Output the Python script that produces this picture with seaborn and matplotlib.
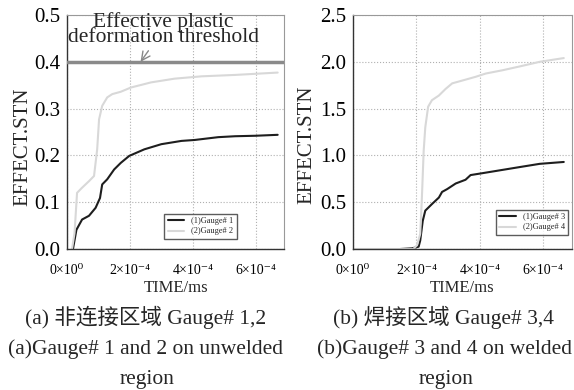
import numpy as np
import pandas as pd
import matplotlib
matplotlib.use("Agg")
import matplotlib.pyplot as plt
import seaborn as sns

# values (time in units of 1e-4, converted below)
g1_t = [0.19, 0.30, 0.48, 0.70, 0.91, 1.05, 1.12, 1.28, 1.50, 1.71, 1.98, 2.46, 3.00, 3.64, 4.06, 4.81, 5.35, 5.99, 6.70]
g1_v = [0.0, 0.041, 0.063, 0.071, 0.088, 0.109, 0.138, 0.149, 0.170, 0.184, 0.199, 0.213, 0.224, 0.231, 0.233, 0.239, 0.241, 0.242, 0.244]
g2_t = [0.16, 0.24, 0.32, 0.48, 0.70, 0.86, 0.96, 1.02, 1.12, 1.28, 1.44, 1.71, 2.03, 2.67, 3.42, 4.28, 5.35, 6.70]
g2_v = [0.0, 0.034, 0.120, 0.131, 0.145, 0.156, 0.213, 0.277, 0.306, 0.324, 0.331, 0.336, 0.345, 0.356, 0.364, 0.369, 0.372, 0.377]

g3_t = [1.49, 1.86, 2.07, 2.12, 2.20, 2.28, 2.49, 2.71, 2.81, 2.97, 3.24, 3.55, 3.71, 4.08, 4.62, 5.25, 5.89, 6.65]
g3_v = [0.0, 0.007, 0.025, 0.09, 0.30, 0.41, 0.48, 0.55, 0.61, 0.64, 0.70, 0.74, 0.79, 0.81, 0.84, 0.875, 0.91, 0.93]
g4_t = [0.0, 1.90, 2.02, 2.12, 2.17, 2.23, 2.28, 2.37, 2.49, 2.71, 2.92, 3.13, 3.45, 3.87, 4.19, 4.72, 5.25, 5.89, 6.65]
g4_v = [0.0, 0.0, 0.04, 0.16, 0.52, 1.05, 1.30, 1.52, 1.59, 1.64, 1.71, 1.77, 1.80, 1.84, 1.875, 1.91, 1.95, 2.00, 2.04]

xticks = [0, 2e-4, 4e-4, 6e-4]
xtick_labels = ["0×10⁰", "2×10⁻⁴", "4×10⁻⁴", "6×10⁻⁴"]
threshold = 0.4

sns.set_style("white")
plt.rcParams["font.family"] = ["Liberation Serif", "DejaVu Serif", "Noto Sans CJK SC"]

def frame(ta, va, la, tb, vb, lb):
    a = pd.DataFrame({"t": np.array(ta) * 1e-4, "v": va, "gauge": la})
    b = pd.DataFrame({"t": np.array(tb) * 1e-4, "v": vb, "gauge": lb})
    return pd.concat([a, b], ignore_index=True)

left = frame(g1_t, g1_v, "(1)Gauge# 1", g2_t, g2_v, "(2)Gauge# 2")
right = frame(g3_t, g3_v, "(1)Gauge# 3", g4_t, g4_v, "(2)Gauge# 4")

fig = plt.figure(figsize=(5.74, 3.9), dpi=100)
ax1 = fig.add_axes([0.1167, 0.3615, 0.378, 0.6])
ax2 = fig.add_axes([0.615, 0.3615, 0.381, 0.6])


def style(ax, ymax, ystep):
    ax.set_xlim(0, 6.9e-4)
    ax.set_ylim(0, ymax)
    ax.set_xticks(xticks)
    ax.set_xticklabels(xtick_labels, fontsize=10)
    yt = np.arange(0, ymax + 1e-9, ystep)
    ax.set_yticks(yt)
    ax.set_yticklabels([f"{v:.1f}" for v in yt], fontsize=15)
    ax.grid(True, color="#b0b0b0", linestyle=":", linewidth=0.8)
    ax.tick_params(direction="out", length=4, width=1, colors="black", pad=1)
    ax.tick_params(axis="x", pad=7)
    for s in ["left", "bottom"]:
        ax.spines[s].set_color("#333333")
        ax.spines[s].set_linewidth(1.0)
    for s in ["top", "right"]:
        ax.spines[s].set_color("#999999")
        ax.spines[s].set_linewidth(0.8)
    ax.set_xlabel("")
    ax.set_ylabel("")


for ax, df, names, ymax, step, loc in [
    (ax1, left, ["(1)Gauge# 1", "(2)Gauge# 2"], 0.5, 0.1, (0.43, 0.026)),
    (ax2, right, ["(1)Gauge# 3", "(2)Gauge# 4"], 2.5, 0.5, (0.635, 0.043)),
]:
    pal = {names[0]: "#1e1e1e", names[1]: "#d8d8d8"}
    sns.lineplot(data=df, x="t", y="v", hue="gauge", palette=pal, estimator=None,
                 linewidth=1.5, ax=ax, legend=True)
    style(ax, ymax, step)
    leg = ax.legend(loc="lower left", bbox_to_anchor=loc, fontsize=6, frameon=True,
                    fancybox=False, handlelength=2.0, borderpad=0.4, labelspacing=0.3)
    leg.get_frame().set_edgecolor("#333333")
    leg.get_frame().set_linewidth(1.0)

ax1.axhline(threshold, color="#8a8a8a", linewidth=2.5, zorder=3)
ax1.annotate("Effective plastic\ndeformation threshold", xy=(2.34e-4, threshold),
             xytext=(3.06e-4, 0.468), ha="center", va="center", fontsize=15.5,
             linespacing=0.72, annotation_clip=False,
             arrowprops=dict(arrowstyle="->", color="#888888", lw=1.0,
                             shrinkA=0, shrinkB=0))

fig.text(0.039, 0.625, "EFFECT.STN", rotation=90, ha="center", va="center", fontsize=15)
fig.text(0.535, 0.63, "EFFECT.STN", rotation=90, ha="center", va="center", fontsize=15)
fig.text(0.3066, 0.262, "TIME/ms", ha="center", va="center", fontsize=12)
fig.text(0.805, 0.262, "TIME/ms", ha="center", va="center", fontsize=12)

cap = dict(ha="center", va="center", fontsize=15.5)
fig.text(0.254, 0.187, "(a) 非连接区域 Gauge# 1,2", **cap)
fig.text(0.253, 0.105, "(a)Gauge# 1 and 2 on unwelded", **cap)
fig.text(0.256, 0.026, "region", **cap)
fig.text(0.772, 0.187, "(b) 焊接区域 Gauge# 3,4", **cap)
fig.text(0.775, 0.105, "(b)Gauge# 3 and 4 on welded", **cap)
fig.text(0.777, 0.026, "region", **cap)

fig.savefig("out.png", dpi=100)
